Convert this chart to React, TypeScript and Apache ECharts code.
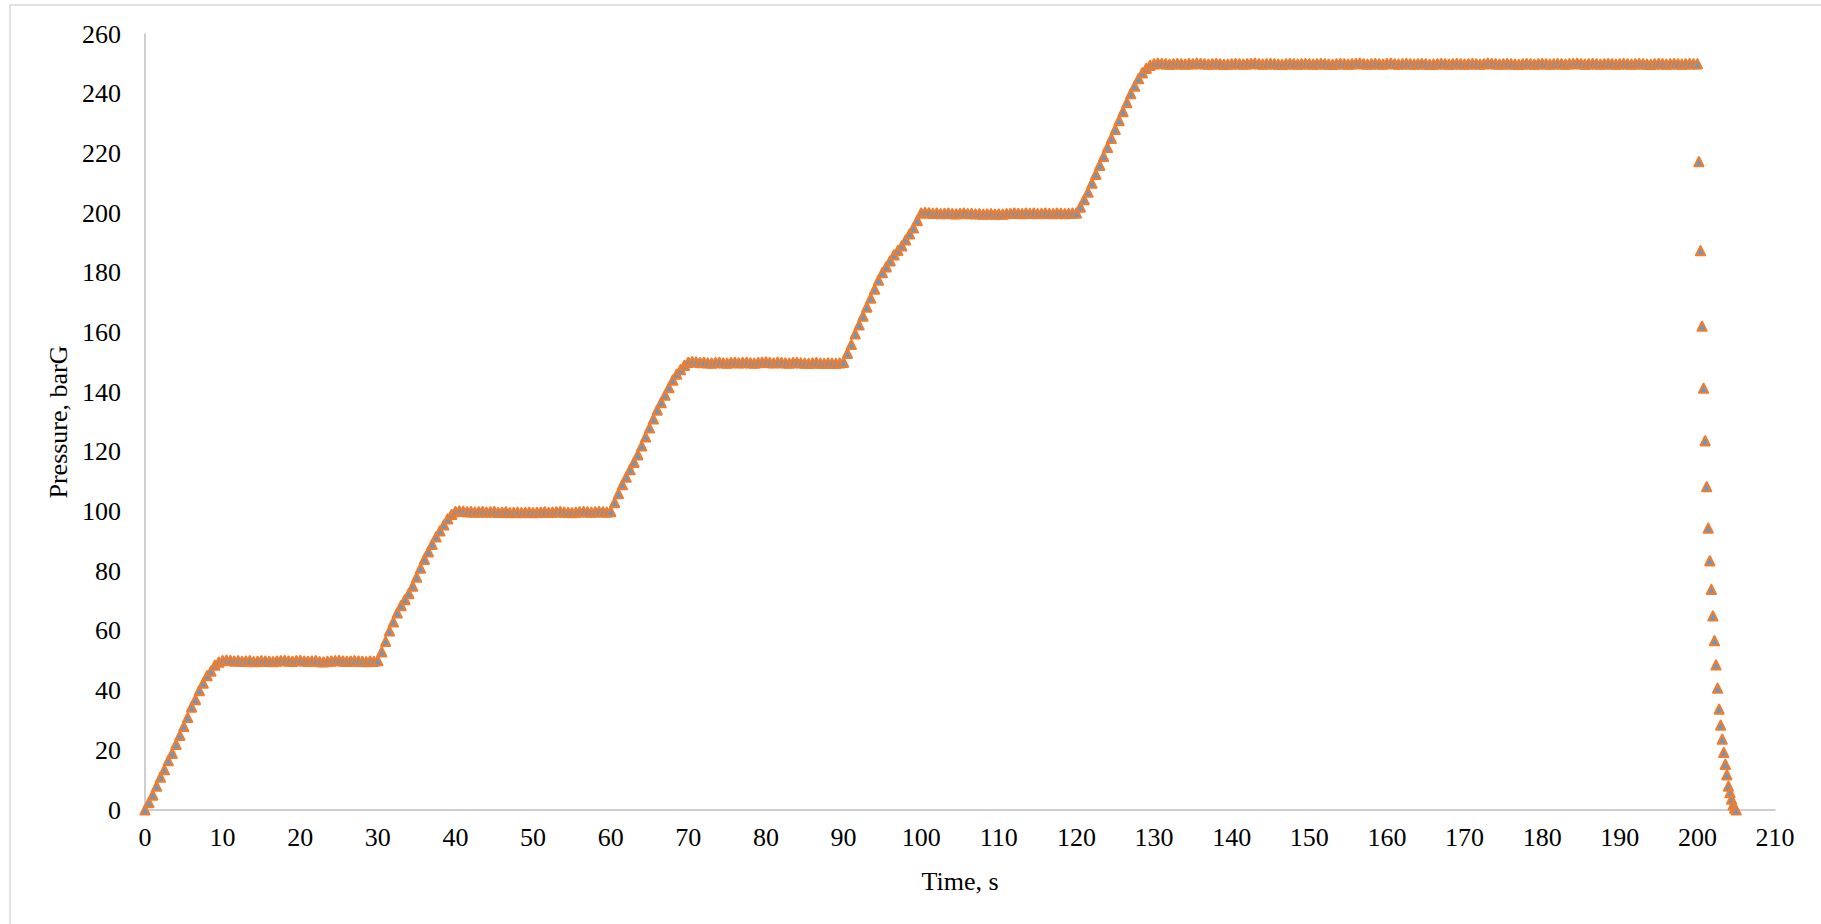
import React, { useEffect, useRef } from "react";
import * as echarts from "echarts";

// ---- data ----
// Logger samples every 0.5 s during the stepped pressurisation.
const SAMPLE_STEP_S = 0.5;

// each phase: start time (s) and the logged pressures (barG)
const ramp1Start = 0;
const ramp1 = [0, 2.5, 5, 8, 11, 13.5, 16.5, 19, 22, 25, 28, 31, 34.5, 37, 40, 42.5, 45, 46.5, 48.5, 49.5];

const hold50Start = 10;
const hold50 = [
  50, 50.2, 50.1, 49.9, 50, 49.8, 49.9, 50, 49.7, 49.8, 50, 49.9, 49.8, 49.7, 49.9, 50, 50.1, 49.9, 49.8, 50,
  50.1, 49.9, 49.8, 49.9, 50, 49.7, 49.6, 49.8, 49.9, 50, 50.1, 49.9, 49.8, 49.9, 50, 49.9, 49.8, 49.7, 49.9, 49.8,
];

const ramp2Start = 30;
const ramp2 = [50, 53, 56.5, 60, 63, 66, 68.5, 70.5, 72.5, 75, 78, 81, 84, 86.5, 89, 91.5, 93.5, 95.5, 97.5, 99];

const hold100Start = 40;
const hold100 = [
  100, 100.2, 100.1, 99.9, 100, 99.8, 99.9, 100, 99.8, 99.9, 100, 99.7, 99.8, 99.9, 99.6, 99.7, 99.8, 99.6, 99.7, 99.8,
  99.6, 99.7, 99.8, 99.9, 99.7, 99.8, 99.9, 100, 99.8, 99.7, 99.6, 99.8, 99.9, 100, 99.9, 99.8, 99.9, 100, 99.9, 99.8,
];

const ramp3Start = 60;
const ramp3 = [100, 103, 106, 109, 111.5, 114, 116.5, 119, 122, 125, 128, 131, 134, 136.5, 139, 141.5, 144, 146, 147.5, 149];

const hold150Start = 70;
const hold150 = [
  150, 150.2, 150.1, 149.9, 150, 149.8, 149.7, 149.9, 150, 149.8, 149.7, 149.9, 150, 149.8, 149.9, 150, 149.8, 149.7, 149.9, 150,
  150.1, 149.9, 149.8, 150, 149.9, 149.8, 149.7, 149.9, 150, 149.8, 149.7, 149.6, 149.8, 149.9, 149.7, 149.6, 149.8, 149.7, 149.6, 149.8,
];

const ramp4Start = 90;
const ramp4 = [150, 153, 156, 159.5, 162.5, 165.5, 168.5, 171.5, 174.5, 177.5, 180, 182, 184, 186, 187.5, 189, 191, 193, 195, 197.5];

const hold200Start = 100;
const hold200 = [
  200, 200.2, 200.1, 199.9, 200, 199.8, 199.9, 200, 199.8, 199.7, 199.9, 200, 199.8, 199.9, 199.7, 199.8, 199.6, 199.7, 199.8, 199.6,
  199.7, 199.6, 199.8, 199.9, 200, 199.9, 199.8, 200, 199.9, 200, 199.8, 199.9, 200, 199.9, 199.8, 200, 199.9, 199.8, 199.9, 200,
];

const ramp5Start = 120;
const ramp5 = [200, 202, 204.5, 207, 210, 213, 216, 219, 222, 225, 228, 231, 234, 237, 240, 242.5, 245, 247, 248.5, 249.5];

const hold250Start = 130;
const hold250 = [
  250, 250.2, 250.1, 250, 249.9, 250, 250.1, 250, 249.9, 250.1, 250, 250.2, 250.1, 250, 249.9, 250, 250.1, 250, 249.8, 249.9,
  250, 250.1, 250, 249.9, 250, 250.1, 250.2, 250, 249.9, 250, 250.1, 250, 249.9, 249.8, 250, 250.1, 250, 249.9, 250, 250.1,
  250, 249.9, 250, 250.1, 250, 249.9, 249.8, 250, 250.1, 250, 249.9, 250, 250.1, 250.2, 250, 249.9, 250, 250.1, 250, 249.9,
  250.1, 250.2, 250, 249.9, 250, 250.1, 250, 249.9, 250, 250.1, 250, 249.8, 249.9, 250, 250.1, 250, 249.9, 250, 250.1, 250,
  249.9, 250, 250.1, 250, 249.9, 250, 250.2, 250.1, 250, 249.9, 250, 250.1, 250, 249.9, 249.8, 250, 250.1, 250, 249.9, 250,
  250.1, 250, 249.9, 250, 250.1, 250, 249.9, 250, 250.1, 250.2, 250, 249.9, 250, 250.1, 250, 249.9, 250, 250.1, 250, 249.9,
  250, 250.1, 250, 249.9, 250, 250.1, 250, 249.9, 249.8, 250, 250.1, 250, 249.9, 250, 250.1, 250, 249.9, 250, 250.1, 250,
  250,
];

// depressurisation (logged every 0.2 s)
const ventTimes = [
  200.2, 200.4, 200.6, 200.8, 201.0, 201.2, 201.4, 201.6, 201.8, 202.0, 202.2, 202.4, 202.6,
  202.8, 203.0, 203.2, 203.4, 203.6, 203.8, 204.0, 204.2, 204.4, 204.6, 204.8, 205.0,
];
const ventPressure = [
  217.2, 187.4, 162.1, 141.3, 123.7, 108.3, 94.4, 83.5, 73.9, 65.0, 56.7, 48.6, 40.8,
  33.8, 28.4, 23.7, 19.3, 15.3, 11.8, 8.0, 5.8, 3.6, 1.7, 0.6, 0,
];

// axes
const X_MIN = 0;
const X_MAX = 210;
const X_STEP = 10;
const Y_MIN = 0;
const Y_MAX = 260;
const Y_STEP = 20;
const X_NAME = "Time, s";
const Y_NAME = "Pressure, barG";

const FONT = "'Liberation Serif', 'Times New Roman', serif";

function phase(start: number, values: number[]): [number, number][] {
  return values.map((p, i) => [start + i * SAMPLE_STEP_S, p]);
}

export default function App() {
  const ref = useRef<HTMLDivElement>(null);

  useEffect(() => {
    if (!ref.current) return;
    const chart = echarts.init(ref.current, undefined, { renderer: "svg" });

    const points: [number, number][] = [
      ...phase(ramp1Start, ramp1),
      ...phase(hold50Start, hold50),
      ...phase(ramp2Start, ramp2),
      ...phase(hold100Start, hold100),
      ...phase(ramp3Start, ramp3),
      ...phase(hold150Start, hold150),
      ...phase(ramp4Start, ramp4),
      ...phase(hold200Start, hold200),
      ...phase(ramp5Start, ramp5),
      ...phase(hold250Start, hold250),
      ...ventTimes.map((t, i) => [t, ventPressure[i]] as [number, number]),
    ];

    const axisText = { fontFamily: FONT, fontSize: 26, color: "#000" };

    chart.setOption({
      animation: false,
      backgroundColor: "#fff",
      graphic: [
        {
          type: "rect",
          shape: { x: 10, y: 5, width: 1900, height: 1000 },
          style: { fill: "none", stroke: "#D9D9D9", lineWidth: 1.5 },
          silent: true,
          z: -10,
        },
      ],
      grid: { left: 145, right: 46, top: 34, bottom: 114, containLabel: false },
      xAxis: {
        type: "value",
        min: X_MIN,
        max: X_MAX,
        interval: X_STEP,
        name: X_NAME,
        nameLocation: "middle",
        nameGap: 58,
        nameTextStyle: axisText,
        axisLine: { show: true, onZero: true, lineStyle: { color: "#BFBFBF", width: 1.5 } },
        axisTick: { show: false },
        splitLine: { show: false },
        axisLabel: { ...axisText, margin: 14, showMaxLabel: true, showMinLabel: true },
      },
      yAxis: {
        type: "value",
        min: Y_MIN,
        max: Y_MAX,
        interval: Y_STEP,
        name: Y_NAME,
        nameLocation: "middle",
        nameRotate: 90,
        nameGap: 74,
        nameTextStyle: axisText,
        axisLine: { show: true, lineStyle: { color: "#BFBFBF", width: 1.5 } },
        axisTick: { show: false },
        splitLine: { show: false },
        axisLabel: { ...axisText, margin: 24 },
      },
      series: [
        {
          type: "scatter",
          data: points,
          symbol: "triangle",
          symbolSize: 9,
          itemStyle: {
            color: "#5B9BD5",
            borderColor: "#ED7D31",
            borderWidth: 2.2,
            borderJoin: "round",
            opacity: 1,
          },
          emphasis: { disabled: true },
        },
      ],
    });

    return () => chart.dispose();
  }, []);

  return (
    <div
      ref={ref}
      style={{ position: "fixed", left: 0, top: 0, width: 1821, height: 924, background: "#fff" }}
    />
  );
}
